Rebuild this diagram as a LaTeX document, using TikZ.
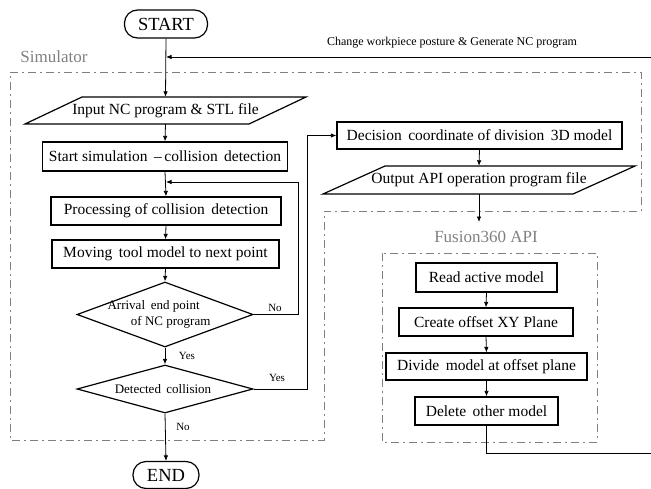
\documentclass[tikz,border=0pt]{standalone}
\usepackage{fontspec}
\setmainfont{Liberation Serif}
\usetikzlibrary{arrows.meta,shapes.geometric,calc}
\definecolor{frameg}{RGB}{128,128,128}
\tikzset{
  x=1pt, y=-1pt,
  boxline/.style={draw=black, line width=1.2pt},
  procbox/.style={boxline, rectangle, inner sep=0pt, font=\fontsize{15.5}{18}\selectfont},
  iotext/.style={rectangle, inner sep=0pt, font=\fontsize{15.5}{18}\selectfont},
  term/.style={boxline, rounded corners=13pt, inner sep=0pt, font=\fontsize{18.5}{21}\selectfont},
  decbox/.style={boxline, diamond, inner sep=0pt},
  dectext/.style={font=\fontsize{13}{16}\selectfont, align=left},
  conn/.style={draw=black, line width=0.8pt},
  arr/.style={conn, -{Latex[length=5.5pt,width=4.5pt]}},
  yn/.style={font=\fontsize{11}{13}\selectfont, inner sep=0pt},
  frame/.style={draw=frameg, line width=1pt, dash pattern=on 8pt off 4pt on 2pt off 4pt},
  framelabel/.style={text=frameg, font=\fontsize{17}{20}\selectfont, inner sep=0pt},
  toplabel/.style={font=\fontsize{12}{14}\selectfont, inner sep=0pt}
}
\begin{document}
\begin{tikzpicture}
\useasboundingbox (0,0) rectangle (651,488);

% containers
\draw[frame] (10,72) -- (641,72) -- (641,211) -- (324,211) -- (324,440) -- (10,440) -- cycle;
\draw[frame] (382,253) rectangle (597,442);
\node[framelabel] (simlabel) at (54,57) {Simulator};
\node[framelabel] (fuslabel) at (486,237) {Fusion360 API};

% terminals
\node[term, minimum width=83pt, minimum height=28pt] (start) at (166,24) {START};
\node[term, minimum width=66pt, minimum height=27pt] (end) at (166,475) {END};

% simulator flow
\node[iotext, minimum width=224pt, minimum height=27pt] (input) at (165.5,110.5) {Input NC program \& STL file};
\draw[boxline] ($(input.center)+(-140.5,13.5)$) -- ($(input.center)+(-83.5,-13.5)$)
  -- ($(input.center)+(140.5,-13.5)$) -- ($(input.center)+(83.5,13.5)$) -- cycle;
\node[procbox, minimum width=245pt, minimum height=29pt] (startsim) at (165,156.5) {Start simulation \,--\,collision\, detection};
\node[procbox, minimum width=230pt, minimum height=28pt] (proc) at (166,211) {Processing of collision\, detection};
\node[procbox, minimum width=227pt, minimum height=28pt] (move) at (165.5,254) {Moving\, tool model to next point};
\node[decbox, minimum width=176pt, minimum height=65pt,
  label={[dectext, xshift=-6pt]center:Arrival\hspace{0.45em}end point\\\hspace{1.8em}of NC program}] (arrive) at (165,314.5) {};
\node[decbox, minimum width=176pt, minimum height=48pt,
  label={[dectext, xshift=-2pt]center:Detected\, collision}] (detect) at (165,389) {};

% decision / output
\node[procbox, minimum width=285pt, minimum height=27pt] (decision) at (479.5,135.5) {Decision\, coordinate of division\, 3D model};
\node[iotext, minimum width=188pt, minimum height=28pt] (output) at (479,180) {Output API operation program file};
\draw[boxline] ($(output.center)+(-156,14)$) -- ($(output.center)+(-94,-14)$)
  -- ($(output.center)+(156,-14)$) -- ($(output.center)+(94,14)$) -- cycle;

% fusion flow
\node[procbox, minimum width=141pt, minimum height=29pt] (read) at (486.5,277.5) {Read active model};
\node[procbox, minimum width=174pt, minimum height=28pt] (create) at (486,322) {Create offset XY Plane};
\node[procbox, minimum width=201pt, minimum height=27pt] (divide) at (486.5,366.5) {Divide\, model at offset plane};
\node[procbox, minimum width=143pt, minimum height=28pt] (delete) at (486.5,411) {Delete\, other model};

% coordinates
\coordinate (fbR) at (651,57);
\coordinate (fbL) at (166,57);
\coordinate (loopin) at (166,182);
\coordinate (apiin) at (479,222);
\coordinate (outR) at (651,453);

% connectors
\draw[arr] (start.south) -- (input.north);
\draw[arr] (fbR) -- (fbL);
\node[toplabel] (fblabel) at (452,43) {Change workpiece posture \& Generate NC program};
\draw[arr] (input.south) -- (startsim.north);
\draw[arr] (startsim.south) -- (proc.north);
\draw[arr] (proc.south) -- (move.north);
\draw[arr] (move.south) -- (arrive.north);
\draw[arr] (arrive.south) -- (detect.north);
\draw[arr] (detect.south) -- (end.north);
\draw[arr] (arrive.east) -- (298,314.5) |- (loopin);
\draw[arr] (detect.east) -- (307,389) |- (decision.west);
\draw[arr] (decision.south) -- (output.north);
\draw[arr] (output.south) -- (apiin);
\draw[arr] (read.south) -- (create.north);
\draw[arr] (create.south) -- (divide.north);
\draw[arr] (divide.south) -- (delete.north);
\draw[conn] (delete.south) |- (outR);

% yes/no labels
\node[yn] (yes1) at (187,356) {Yes};
\node[yn] (no1) at (275,308) {No};
\node[yn] (yes2) at (277,378) {Yes};
\node[yn] (no2) at (183,427) {No};
\end{tikzpicture}
\end{document}
